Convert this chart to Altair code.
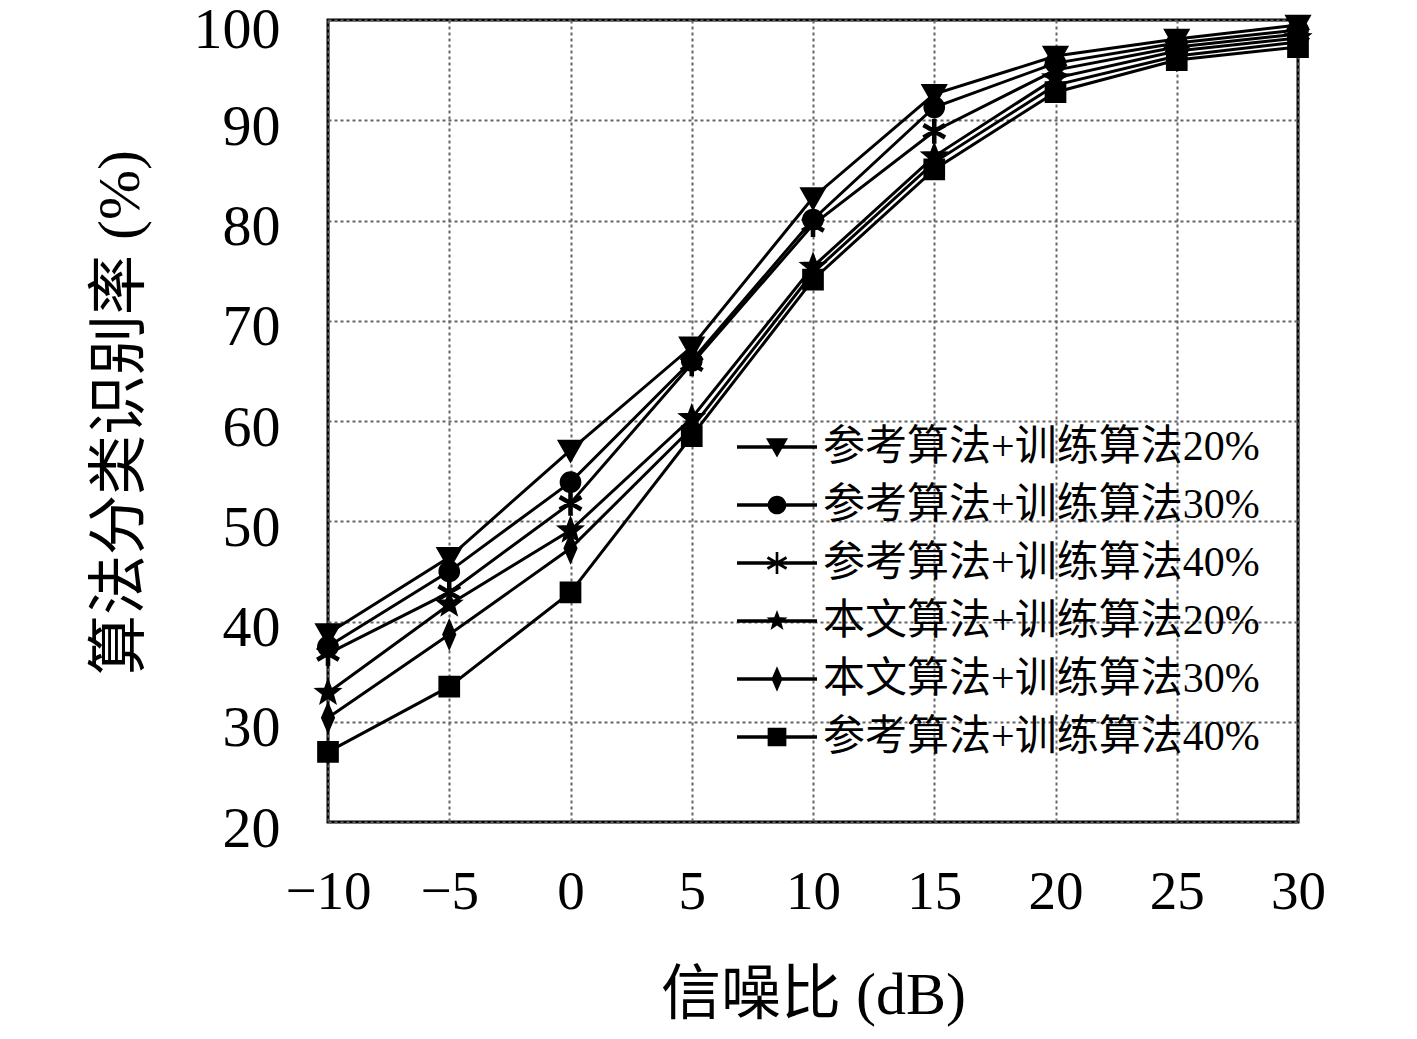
import math
import altair as alt
import pandas as pd

# ---- data ----
snr = [-10, -5, 0, 5, 10, 15, 20, 25, 30]
series_keys = ["s1", "s2", "s3", "s4", "s5", "s6"]
series_labels = [
    "参考算法+训练算法20%",
    "参考算法+训练算法30%",
    "参考算法+训练算法40%",
    "本文算法+训练算法20%",
    "本文算法+训练算法30%",
    "参考算法+训练算法40%",
]
ref20 = [38.8, 46.4, 57.1, 67.4, 82.3, 92.6, 96.4, 98.1, 99.5]
ref30 = [37.5, 45.0, 53.9, 66.0, 80.1, 91.3, 95.7, 97.7, 99.0]
ref40 = [36.8, 42.9, 51.8, 65.7, 79.6, 88.9, 95.0, 97.3, 98.6]
our20 = [32.9, 41.7, 49.1, 60.3, 75.4, 86.4, 94.2, 96.9, 98.2]
our30 = [30.4, 38.7, 47.3, 59.3, 74.8, 85.8, 93.5, 96.4, 97.8]
ref40b = [27.0, 33.5, 42.9, 58.5, 74.1, 85.1, 92.8, 96.0, 97.3]
values = [ref20, ref30, ref40, our20, our30, ref40b]

rows = []
for key, vals in zip(series_keys, values):
    for x, y in zip(snr, vals):
        rows.append({"snr": x, "rate": y, "series": key})
df = pd.DataFrame(rows)


# ---- marker shapes (style only, all polygons clockwise) ----
def fmt(v):
    return f"{v:.3f}"


def poly(pts):
    return "M" + "L".join(f"{fmt(px)},{fmt(py)}" for px, py in pts) + "Z"


def bar(angle, length, half_w):
    c, s_ = math.cos(angle), math.sin(angle)
    base_pts = [(-length, -half_w), (length, -half_w), (length, half_w), (-length, half_w)]
    return poly([(px * c - py * s_, px * s_ + py * c) for px, py in base_pts])


def marker(kind, s=1.0, ast_w=0.12):
    if kind == "tri":
        return poly([(-1 * s, -0.8 * s), (1 * s, -0.8 * s), (0, 0.95 * s)])
    if kind == "circle":
        r = 0.85 * s
        return f"M{fmt(-r)},0A{fmt(r)},{fmt(r)} 0 1,1 {fmt(r)},0A{fmt(r)},{fmt(r)} 0 1,1 {fmt(-r)},0Z"
    if kind == "ast":
        hw = ast_w * s
        return "".join(bar(math.radians(a), s, hw) for a in (90, 30, 150))
    if kind == "star":
        pts = []
        for i in range(10):
            r = (1.0 if i % 2 == 0 else 0.42) * s
            ang = -math.pi / 2 + i * math.pi / 5
            pts.append((r * math.cos(ang), r * math.sin(ang)))
        return poly(pts)
    if kind == "diamond":
        return poly([(0, -1.15 * s), (0.5 * s, 0), (0, 1.15 * s), (-0.5 * s, 0)])
    if kind == "square":
        h = 0.85 * s
        return poly([(-h, -h), (h, -h), (h, h), (-h, h)])


kinds = ["tri", "circle", "ast", "star", "diamond", "square"]
chart_shapes = [marker(k, 1.0, ast_w=0.07) for k in kinds]
legend_line = poly([(-2, -0.09), (2, -0.09), (2, 0.09), (-2, 0.09)])
legend_shapes = [legend_line + marker(k, 0.55) for k in kinds]

label_expr = "".join(
    f"datum.label == '{k}' ? '{lab}' : " for k, lab in zip(series_keys, series_labels)
) + "datum.label"

FONT = "Liberation Serif, Noto Sans CJK SC"

base = alt.Chart(df)

x_enc = alt.X(
    "snr:Q",
    scale=alt.Scale(domain=[-10, 30], nice=False),
    axis=alt.Axis(
        values=snr,
        title="信噪比 (dB)",
        titleFont=FONT,
        titleFontSize=60,
        titleFontWeight="normal",
        titleColor="black",
        titleY=173,
        titleBaseline="middle",
        labelFont=FONT,
        labelFontSize=55,
        labelColor="black",
        labelPadding=43,
        tickSize=0,
        ticks=False,
        domain=False,
        grid=True,
        gridColor="#666666",
        gridDash=[3, 3],
        gridWidth=2,
        labelFlush=False,
    ),
)
y_enc = alt.Y(
    "rate:Q",
    scale=alt.Scale(domain=[20, 100], nice=False),
    axis=alt.Axis(
        values=list(range(20, 101, 10)),
        title="算法分类识别率 (%)",
        titleFont=FONT,
        titleFontSize=60,
        titleFontWeight="normal",
        titleColor="black",
        titleX=-208,
        titleY=392,
        titleBaseline="middle",
        labelFont=FONT,
        labelFontSize=58,
        labelColor="black",
        labelPadding=48,
        labelOffset={"condition": {"test": "datum.value == 100", "value": 10}, "value": 7},
        tickSize=0,
        ticks=False,
        domain=False,
        grid=True,
        gridColor="#666666",
        gridDash=[3, 3],
        gridWidth=2,
        labelFlush=False,
    ),
)

lines = base.mark_line(color="black", strokeWidth=3).encode(
    x=x_enc, y=y_enc, detail="series:N"
)

points = base.mark_point(filled=True, color="black", stroke="black", strokeWidth=3, size=484, opacity=1).encode(
    x="snr:Q",
    y="rate:Q",
    shape=alt.Shape(
        "series:N",
        scale=alt.Scale(domain=series_keys, range=chart_shapes),
        legend=None,
    ),
)

legend_layer = base.mark_point(
    filled=True, color="black", opacity=0, size=1600
).encode(
    x="snr:Q",
    y="rate:Q",
    shape=alt.Shape(
        "series:N",
        scale=alt.Scale(domain=series_keys, range=legend_shapes),
        legend=alt.Legend(
            title=None,
            orient="none",
            legendX=428,
            legendY=406,
            padding=0,
            labelExpr=label_expr,
            labelFont=FONT,
            labelFontSize=42,
            labelColor="black",
            labelOffset=25,
            labelLimit=700,
            symbolSize=1600,
            symbolOpacity=1,
            symbolFillColor="black",
            rowPadding=16,
        ),
    ),
)

chart = (
    alt.layer(lines, legend_layer, points)
    .resolve_scale(shape="independent")
    .properties(
        width=970,
        height=802,
        padding={"left": 320, "top": 12, "right": 90, "bottom": 209},
        autosize=alt.AutoSizeParams(type="none"),
        background="white",
    )
    .configure_view(stroke="black", strokeWidth=3)
)

chart.save("out.html", embed_options={"renderer": "svg", "actions": False})
